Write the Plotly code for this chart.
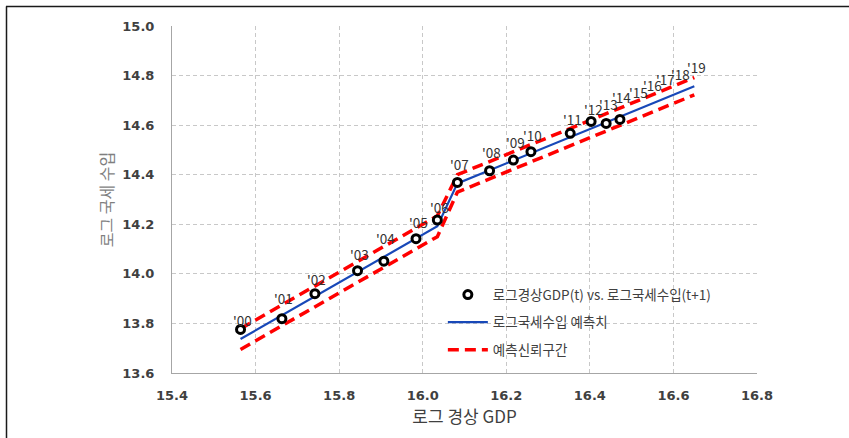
import plotly.graph_objects as go

# Year labels, log nominal GDP (t) and log national tax revenue (t+1)
years = ["'00", "'01", "'02", "'03", "'04", "'05", "'06", "'07", "'08", "'09",
         "'10", "'11", "'12", "'13", "'14", "'15", "'16", "'17", "'18", "'19"]
log_gdp = [15.564, 15.663, 15.742, 15.844, 15.907, 15.984, 16.035, 16.083, 16.160, 16.217,
           16.259, 16.353, 16.403, 16.439, 16.472, 16.511, 16.546, 16.576, 16.612, 16.650]
log_tax_actual = [13.776, 13.819, 13.920, 14.013, 14.051, 14.142, 14.217, 14.369, 14.416,
                  14.459, 14.493, 14.567, 14.615, 14.607, 14.623]
log_tax_pred = [13.737, 13.833, 13.909, 14.007, 14.068, 14.143, 14.192, 14.365, 14.418, 14.458,
                14.487, 14.552, 14.586, 14.611, 14.634, 14.661, 14.685, 14.706, 14.731, 14.757]
ci_upper = [13.779, 13.875, 13.951, 14.049, 14.110, 14.185, 14.234, 14.400, 14.453, 14.493,
            14.522, 14.587, 14.621, 14.646, 14.669, 14.696, 14.720, 14.741, 14.766, 14.792]
ci_lower = [13.695, 13.791, 13.867, 13.965, 14.026, 14.101, 14.150, 14.330, 14.383, 14.423,
            14.452, 14.517, 14.551, 14.576, 14.599, 14.626, 14.650, 14.671, 14.696, 14.722]

# vertical pixel lift of each year label above its point
label_lift = [9, 21, 15, 17, 23, 17, 13, 18, 19, 18, 17, 14, 12, 19, 22, 18, 19, 20, 19, 19]

TXT = "#404040"
GRID = "#c8c8c8"
CJK = "Noto Sans CJK KR"
RED_DASH = dict(color="#ff0000", width=3.5, dash="11px,6px")

n_act = len(log_tax_actual)

fig = go.Figure()

# lines first so the circles sit on top of them
fig.add_trace(go.Scatter(
    x=log_gdp, y=log_tax_pred, mode="lines",
    name="로그국세수입 예측치", legendgroup="b", legendrank=2,
    line=dict(color="#1848b8", width=2.2),
))
fig.add_trace(go.Scatter(
    x=log_gdp, y=ci_upper, mode="lines",
    name="예측신뢰구간", legendgroup="c", legendrank=3,
    line=RED_DASH,
))
fig.add_trace(go.Scatter(
    x=log_gdp, y=ci_lower, mode="lines",
    name="예측신뢰구간", legendgroup="c", legendrank=3, showlegend=False,
    line=RED_DASH,
))
fig.add_trace(go.Scatter(
    x=log_gdp[:n_act], y=log_tax_actual, mode="markers",
    name="로그경상GDP(t) vs. 로그국세수입(t+1)", legendgroup="a", legendrank=1,
    marker=dict(symbol="circle", size=8, color="white",
                line=dict(color="black", width=3)),
))

# year labels
for i, yr in enumerate(years):
    yv = log_tax_actual[i] if i < n_act else log_tax_pred[i]
    fig.add_annotation(
        x=log_gdp[i], y=yv, text=yr, showarrow=False,
        xshift=2, yshift=label_lift[i],
        font=dict(family=CJK, size=13.5, color="#333333"),
    )

# outer frame lines (top and left)
frame = dict(type="line", xref="paper", yref="paper",
             line=dict(color="#1a1a1a", width=1.5))
fig.add_shape(x0=-0.2838, x1=1.16, y0=1.0562, y1=1.0562, **frame)
fig.add_shape(x0=-0.2829, x1=-0.2829, y0=1.0562, y1=-0.19, **frame)

fig.update_layout(
    width=849, height=438,
    margin=dict(l=172, r=92, t=26, b=65),
    paper_bgcolor="white", plot_bgcolor="white",
    showlegend=True,
    legend=dict(
        x=0.463, y=0.27, xanchor="left", yanchor="top",
        bgcolor="rgba(0,0,0,0)", traceorder="grouped", tracegroupgap=7,
        font=dict(family=CJK, size=13.5, color=TXT),
        itemwidth=40,
    ),
    xaxis=dict(
        range=[15.4, 16.8], dtick=0.2, tickformat=".1f",
        showgrid=True, gridcolor=GRID, griddash="4px,3px", gridwidth=1,
        showline=True, linecolor="#a6a6a6", linewidth=1,
        zeroline=False, ticks="", ticklabelstandoff=10,
        tickfont=dict(family="DejaVu Sans", size=13, color=TXT, weight="bold"),
        title=dict(text="로그 경상 GDP", standoff=7,
                   font=dict(family=CJK, size=17, color=TXT)),
    ),
    yaxis=dict(
        range=[13.6, 15.0], dtick=0.2, tickformat=".1f",
        showgrid=True, gridcolor=GRID, griddash="4px,3px", gridwidth=1,
        showline=True, linecolor="#a6a6a6", linewidth=1,
        zeroline=False, ticks="", ticklabelstandoff=14,
        tickfont=dict(family="DejaVu Sans", size=13, color=TXT, weight="bold"),
        title=dict(text="로그 국세 수입", standoff=4,
                   font=dict(family=CJK, size=16, color="#7f7f7f")),
    ),
)

fig.write_html("out.html")
